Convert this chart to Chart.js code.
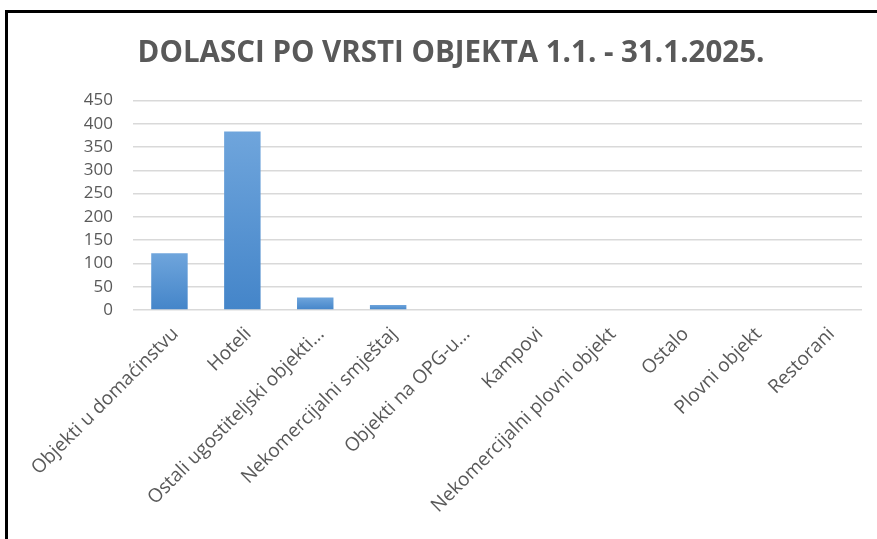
<!DOCTYPE html>
<html>
<head>
<meta charset="utf-8">
<script src="https://cdn.jsdelivr.net/npm/chart.js@4.4.1/dist/chart.umd.min.js"></script>
<style>
  html, body { margin: 0; padding: 0; background: #fff; }
  #wrap { position: relative; width: 877px; height: 539px; overflow: hidden; }
  #frame { position: absolute; left: 5px; top: 10px; width: 900px; height: 600px;
           border-top: 3px solid #000; border-left: 3px solid #000; pointer-events: none; }
  canvas { position: absolute; left: 0; top: 0; }
</style>
</head>
<body>
<div id="wrap">
  <canvas id="chart" width="877" height="539"></canvas>
  <div id="frame"></div>
</div>
<script>
// data
const chartTitle = 'DOLASCI PO VRSTI OBJEKTA 1.1. - 31.1.2025.';
const categories = [
    'Objekti u domaćinstvu', 'Hoteli', 'Ostali ugostiteljski objekti...', 'Nekomercijalni smještaj',
    'Objekti na OPG-u...', 'Kampovi', 'Nekomercijalni plovni objekt', 'Ostalo', 'Plovni objekt', 'Restorani'
];
const arrivals = [122, 383, 27, 11, 0, 0, 0, 0, 0, 0];
const yMax = 450;
const yStep = 50;

const textColor = '#595959';
const gridColor = '#d9d9d9';

// each bar gets its own light-to-dark gradient, like the Excel style
function barGradient(context) {
    const chart = context.chart;
    const yScale = chart.scales.y;
    if (!chart.chartArea || !yScale || context.type !== 'data') return '#5b9bd5';
    const top = yScale.getPixelForValue(context.raw);
    const base = yScale.getPixelForValue(0);
    if (base - top < 1) return '#5b9bd5';
    const g = chart.ctx.createLinearGradient(0, top, 0, base);
    g.addColorStop(0, '#6fa5dc');
    g.addColorStop(1, '#4485c9');
    return g;
}

const ctx = document.getElementById('chart').getContext('2d');
window.arrivalsChart = new Chart(ctx, {
    type: 'bar',
    data: {
        labels: categories,
        datasets: [{
            label: 'Dolasci',
            data: arrivals,
            backgroundColor: barGradient,
            borderWidth: 0,
            categoryPercentage: 1,
            barPercentage: 0.5
        }]
    },
    options: {
        responsive: false,
        animation: false,
        layout: { padding: { top: 36, right: 15, left: 40, bottom: 0 } },
        plugins: {
            legend: { display: false },
            tooltip: { enabled: false },
            title: {
                display: true,
                text: chartTitle,
                color: textColor,
                font: { family: 'Open Sans', size: 29.5, weight: 'bold' },
                padding: { top: 0, bottom: 29 }
            }
        },
        scales: {
            x: {
                grid: { display: false },
                border: { display: false },
                ticks: {
                    color: textColor,
                    font: { family: 'Open Sans', size: 19 },
                    maxRotation: 45,
                    minRotation: 45,
                    autoSkip: false,
                    labelOffset: 6,
                    padding: 5
                },
                afterFit: function (scale) { scale.height = 229; }
            },
            y: {
                min: 0,
                max: yMax,
                grid: { color: gridColor, lineWidth: 1.5, drawTicks: false },
                border: { display: false },
                ticks: {
                    stepSize: yStep,
                    autoSkip: false,
                    color: textColor,
                    font: { family: 'Open Sans', size: 17, lineHeight: 1 },
                    padding: 20
                },
                afterFit: function (scale) { scale.width = 93; }
            }
        }
    }
});
</script>
</body>
</html>
